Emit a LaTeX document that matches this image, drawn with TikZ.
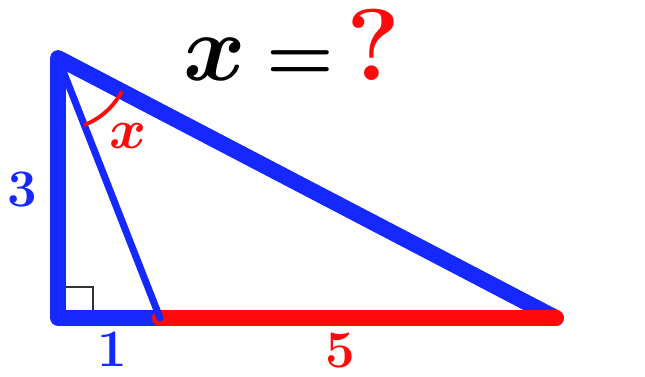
\documentclass[tikz,border=0pt]{standalone}
\usepackage{fix-cm}
\usepackage{amsmath,amssymb}
\usepackage{xcolor}
\usetikzlibrary{angles,quotes}
\definecolor{sideblue}{RGB}{20,40,255}
\definecolor{sidered}{RGB}{255,10,10}

\begin{document}
\begin{tikzpicture}[x=0.02cm, y=0.02cm,
    side/.style={line width=9pt, line cap=round, line join=round},
    cevian/.style={line width=4pt, line cap=round, sideblue},
    len/.style={font=\fontsize{30}{30}\selectfont\bfseries}]

    \useasboundingbox (0,0) rectangle (645,376);

    \coordinate (A) at (58,318);
    \coordinate (B) at (58,58);
    \coordinate (D) at (160,58);
    \coordinate (C) at (556,58);

    % right angle mark
    \draw[gray!40!black, line width=1.5pt] (B) rectangle (93,89);

    \draw[side, sideblue] (C) -- (A) -- (B) -- (D);
    \draw[side, sidered] (D) -- (C);
    \draw[cevian] (A) -- (D);

    \pic[draw=sidered, line width=2.2pt, angle radius=1.44cm, angle eccentricity=1.45,
        "$x$", font=\fontsize{32}{32}\selectfont\boldmath\color{sidered}] {angle=D--A--C};

    % labels
    \node[len, sideblue] (three) at (22,186) {3};
    \node[len, sideblue] (one) at (112,27) {1};
    \node[len, sidered] (five) at (340,25) {5};

    \node[anchor=base] (title) at (292,296)
        {{\fontsize{54}{54}\selectfont\boldmath$x$}\hspace{0.4cm}{\fontsize{44}{44}\selectfont\boldmath$=$}\hspace{0.25cm}{\fontsize{58}{58}\selectfont\bfseries\color{sidered}?}};
\end{tikzpicture}
\end{document}
